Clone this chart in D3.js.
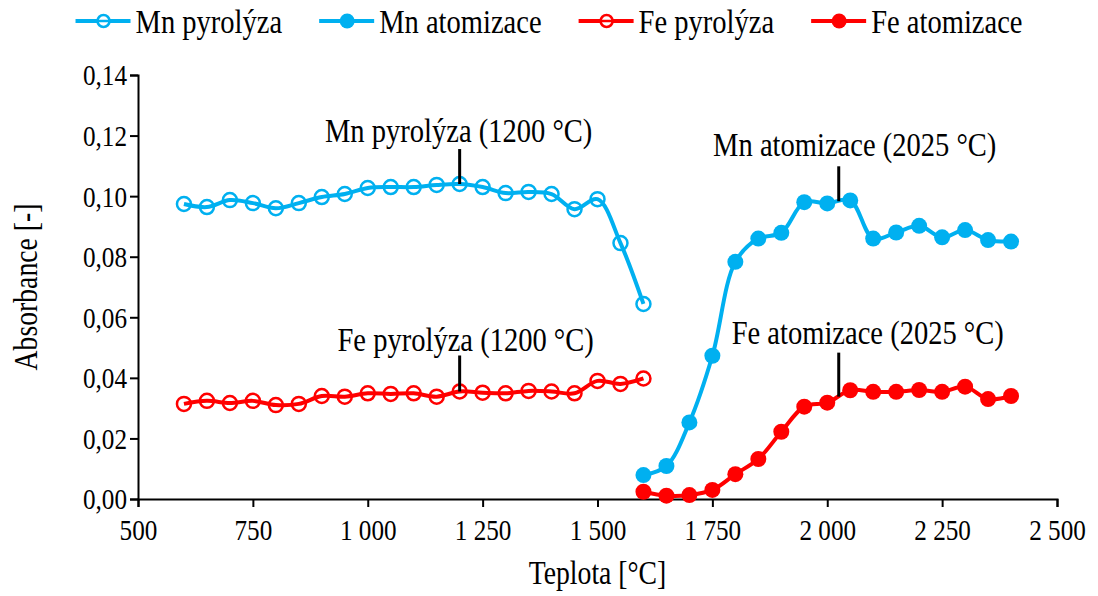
<!DOCTYPE html>
<html>
<head>
<meta charset="utf-8">
<script src="https://cdn.jsdelivr.net/npm/d3@7"></script>
<style>
  body { margin: 0; background: #fff; }
  svg text { font-family: "Liberation Serif", "Times New Roman", "DejaVu Serif", serif; fill: #000; }
</style>
</head>
<body>
<div id="chart"></div>
<script>
// temperatures [°C]
const pyroTemps = [600, 650, 700, 750, 800, 850, 900, 950, 1000, 1050, 1100, 1150,
  1200, 1250, 1300, 1350, 1400, 1450, 1500, 1550, 1600];
const atomTemps = [1600, 1650, 1700, 1750, 1800, 1850, 1900, 1950, 2000, 2050,
  2100, 2150, 2200, 2250, 2300, 2350, 2400];

// absorbance values
const mnPyro = [0.0974, 0.0964, 0.0987, 0.0977, 0.0960, 0.0977, 0.0997, 0.1007, 0.1027,
  0.1030, 0.1030, 0.1037, 0.1040, 0.1030, 0.1010, 0.1014, 0.1007, 0.0957, 0.0990, 0.0845, 0.0644];
const mnAtom = [0.0079, 0.0109, 0.0253, 0.0473, 0.0783, 0.0860, 0.0879, 0.0980, 0.0976,
  0.0986, 0.0860, 0.0880, 0.0902, 0.0864, 0.0888, 0.0855, 0.0850];
const fePyro = [0.0314, 0.0324, 0.0317, 0.0324, 0.0310, 0.0314, 0.0340, 0.0338, 0.0349,
  0.0347, 0.0349, 0.0338, 0.0355, 0.0351, 0.0349, 0.0357, 0.0355, 0.0349, 0.0390, 0.0380, 0.0398];
const feAtom = [0.0024, 0.0011, 0.0013, 0.0030, 0.0082, 0.0132, 0.0222, 0.0305, 0.0318,
  0.0359, 0.0354, 0.0354, 0.0360, 0.0354, 0.0371, 0.0330, 0.0340];

const xTicks = [500, 750, 1000, 1250, 1500, 1750, 2000, 2250, 2500];
const yTicks = [0, 0.02, 0.04, 0.06, 0.08, 0.10, 0.12, 0.14];

const seriesNames = ["Mn pyrolýza", "Mn atomizace", "Fe pyrolýza", "Fe atomizace"];

// optimum annotations: label, temperature, absorbance at the tip of the marker line
const notes = [
  { label: "Mn pyrolýza (1200 °C)", t: 1200, a: 0.1040 },
  { label: "Mn atomizace (2025 °C)", t: 2025, a: 0.0983 },
  { label: "Fe pyrolýza (1200 °C)", t: 1200, a: 0.0355 },
  { label: "Fe atomizace (2025 °C)", t: 2025, a: 0.0338 },
];
// where each annotation label sits relative to its tip (px)
const noteLayout = [
  { dx: -1, len: 35, gap: 42 },
  { dx: 16, len: 35, gap: 45 },
  { dx: 6, len: 36, gap: 40 },
  { dx: 29, len: 44, gap: 53 },
];

const FONT = "'Liberation Serif', 'Times New Roman', serif";
const SX = 0.84; // the original text is drawn a bit narrow

class Absorbance_Chart {
  constructor(element, width, height, margin) {
    this.element = element;
    this.width = width;
    this.height = height;
    this.margin = margin;
    this.series = [
      { name: seriesNames[0], x: pyroTemps, y: mnPyro, color: "#00B0F0", open: true },
      { name: seriesNames[1], x: atomTemps, y: mnAtom, color: "#00B0F0", open: false },
      { name: seriesNames[2], x: pyroTemps, y: fePyro, color: "#FF0000", open: true },
      { name: seriesNames[3], x: atomTemps, y: feAtom, color: "#FF0000", open: false },
    ];
    this.locale = d3.formatLocale({ decimal: ",", thousands: " ", grouping: [3], currency: ["", ""] });
    this.draw();
  }

  draw() {
    this.svg = d3.select(this.element).append("svg")
      .attr("width", this.width)
      .attr("height", this.height)
      .attr("font-family", FONT);

    this.createScales();
    this.drawAxis();
    this.drawLines();
    this.drawNotes();
    this.drawLegend();
  }

  // narrow text placed at (x, y)
  label(parent, x, y, size, str, anchor, rotate) {
    return parent.append("text")
      .attr("transform", `translate(${x},${y})` + (rotate ? ` rotate(${rotate})` : "") + ` scale(${SX},1)`)
      .attr("text-anchor", anchor || "start")
      .attr("font-family", FONT)
      .style("font-size", size + "px")
      .text(str);
  }

  createScales() {
    this.xScale = d3.scaleLinear()
      .domain([500, 2500])
      .range([this.margin.left, this.width - this.margin.right]);
    this.yScale = d3.scaleLinear()
      .domain([0, 0.14])
      .range([this.height - this.margin.bottom, this.margin.top]);
  }

  drawAxis() {
    const fx = this.locale.format(",d");
    const fy = this.locale.format(".2f");

    const gx = this.svg.append("g")
      .attr("transform", `translate(0,${this.height - this.margin.bottom})`)
      .call(d3.axisBottom(this.xScale).tickValues(xTicks).tickFormat(fx).tickSize(8));
    const gy = this.svg.append("g")
      .attr("transform", `translate(${this.margin.left},0)`)
      .call(d3.axisLeft(this.yScale).tickValues(yTicks).tickFormat(fy).tickSize(8));

    [gx, gy].forEach((g) => {
      g.attr("font-family", FONT);
      g.select(".domain").attr("stroke", "#000").attr("stroke-width", 2);
      g.selectAll(".tick line").attr("stroke", "#000").attr("stroke-width", 2);
      g.selectAll(".tick text").style("font-size", "30px").attr("fill", "#000");
    });
    gx.selectAll(".tick text").attr("y", 0).attr("dy", 0)
      .attr("transform", `translate(0,41) scale(${SX},1)`);
    gy.selectAll(".tick text").attr("x", 0).attr("dy", "0.33em")
      .attr("transform", `translate(-11,0) scale(${SX},1)`);

    // axis titles
    const midX = (this.xScale.range()[0] + this.xScale.range()[1]) / 2;
    this.label(this.svg, midX, this.height - 12, 33, "Teplota [°C]", "middle");

    const midY = (this.yScale.range()[0] + this.yScale.range()[1]) / 2;
    this.label(this.svg, 37, midY, 33, "Absorbance [-]", "middle", -90);
  }

  drawLines() {
    const line = d3.line()
      .x((d) => this.xScale(d[0]))
      .y((d) => this.yScale(d[1]))
      .curve(d3.curveCatmullRom.alpha(0.5));

    this.series.forEach((s) => {
      const pts = s.x.map((t, i) => [t, s.y[i]]);
      const g = this.svg.append("g");
      g.append("path")
        .datum(pts)
        .attr("d", line)
        .attr("fill", "none")
        .attr("stroke", s.color)
        .attr("stroke-width", 4);

      g.selectAll("circle")
        .data(pts)
        .join("circle")
        .attr("cx", (d) => this.xScale(d[0]))
        .attr("cy", (d) => this.yScale(d[1]))
        .attr("r", s.open ? 7 : 8)
        .attr("fill", s.open ? "none" : s.color)
        .attr("stroke", s.color)
        .attr("stroke-width", s.open ? 2.5 : 0);
    });
  }

  drawNotes() {
    const g = this.svg.append("g");
    notes.forEach((n, i) => {
      const lay = noteLayout[i];
      const x = this.xScale(n.t);
      const y = this.yScale(n.a);
      g.append("line")
        .attr("x1", x).attr("x2", x)
        .attr("y1", y).attr("y2", y - lay.len)
        .attr("stroke", "#000")
        .attr("stroke-width", 3);
      this.label(g, x + lay.dx, y - lay.gap, 34, n.label, "middle");
    });
  }

  drawLegend() {
    const g = this.svg.append("g").attr("transform", "translate(0,21)");
    const items = g.selectAll("g")
      .data(this.series)
      .join("g");

    items.append("line")
      .attr("x1", 0).attr("x2", 55)
      .attr("stroke", (d) => d.color)
      .attr("stroke-width", 4);
    items.append("circle")
      .attr("cx", 28)
      .attr("r", (d) => (d.open ? 6 : 7.5))
      .attr("fill", (d) => (d.open ? "#fff" : d.color))
      .attr("stroke", (d) => d.color)
      .attr("stroke-width", (d) => (d.open ? 2.5 : 0));
    items.append("line")
      .filter((d) => d.open)
      .attr("x1", 22).attr("x2", 34)
      .attr("stroke", (d) => d.color)
      .attr("stroke-width", 2.5);
    items.append("text")
      .attr("transform", `translate(60,0) scale(${SX},1)`)
      .attr("dy", "0.35em")
      .attr("font-family", FONT)
      .style("font-size", "34px")
      .text((d) => d.name);

    // lay the items out side by side, centred on the page
    let x = 0;
    const offsets = [];
    items.each(function () {
      offsets.push(x);
      x += 60 + this.querySelector("text").getComputedTextLength() * SX + 37;
    });
    const total = x - 37;
    const start = (this.width - total) / 2;
    items.attr("transform", (d, i) => `translate(${start + offsets[i]},0)`);
  }
}

new Absorbance_Chart(document.getElementById("chart"), 1098, 596,
  { top: 75, right: 41, bottom: 97, left: 138 });
</script>
</body>
</html>
